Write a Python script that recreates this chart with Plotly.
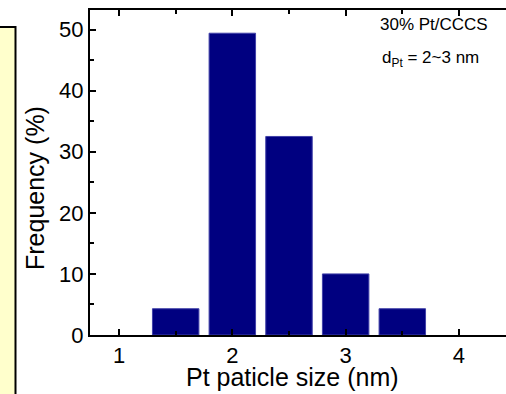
import plotly.graph_objects as go

sizes = [1.5, 2.0, 2.5, 3.0, 3.5]
freq = [4.3, 49.4, 32.5, 10.0, 4.3]
x_ticks = [1, 2, 3, 4]
y_ticks = [0, 10, 20, 30, 40, 50]

FONT = "Liberation Sans, Arial, sans-serif"

fig = go.Figure()
fig.add_trace(go.Bar(
    x=sizes, y=freq, width=0.41,
    marker=dict(color="#000080", line=dict(color="#4040a8", width=1)),
))

L, R, T, B = 90, 0, 10, 59
W, H = 506, 394
pw, ph = W - L - R, H - T - B

def px(x):
    return (x - L) / pw

def py(y):
    return (H - B - y) / ph

fig.update_layout(
    width=W, height=H,
    margin=dict(l=L, r=R, t=T, b=B, pad=0, autoexpand=False),
    paper_bgcolor="white", plot_bgcolor="white",
    showlegend=False,
    font=dict(family=FONT, color="black"),
    xaxis=dict(
        range=[0.744, 4.415], tickvals=x_ticks, ticktext=[str(v) for v in x_ticks],
        ticks="inside", ticklen=6, tickwidth=2, tickcolor="black",
        showline=True, linewidth=2, linecolor="black", mirror="ticks",
        showgrid=False, zeroline=False, automargin=False,
        tickfont=dict(size=22, family=FONT),
        minor=dict(tickvals=[1.5, 2.5, 3.5], ticks="inside", ticklen=4, tickwidth=2, tickcolor="black"),
    ),
    yaxis=dict(
        range=[0, 53.2], tickvals=y_ticks,
        ticks="inside", ticklen=6, tickwidth=2, tickcolor="black",
        showline=True, linewidth=2, linecolor="black",
        showgrid=False, zeroline=False, automargin=False,
        tickfont=dict(size=22, family=FONT),
        minor=dict(tickvals=[5, 15, 25, 35, 45], ticks="inside", ticklen=4, tickwidth=2, tickcolor="black"),
    ),
    shapes=[dict(
        type="rect", xref="paper", yref="paper",
        x0=px(-10), x1=px(15.5), y0=py(410), y1=py(27),
        fillcolor="#FFFFCC", line=dict(color="black", width=2), layer="below",
    )],
    annotations=[
        dict(text="Pt paticle size (nm)", xref="paper", yref="paper",
             x=px(292.5), y=py(377), showarrow=False, font=dict(size=25, family=FONT),
             xanchor="center", yanchor="middle"),
        dict(text="Frequency (%)", xref="paper", yref="paper",
             x=px(35), y=py(188), showarrow=False, textangle=-90,
             font=dict(size=25, family=FONT), xanchor="center", yanchor="middle"),
        dict(text="30% Pt/CCCS", xref="paper", yref="paper",
             x=px(434), y=py(25), showarrow=False, font=dict(size=17, family=FONT),
             xanchor="center", yanchor="middle"),
        dict(text="d<sub>Pt</sub> = 2~3 nm", xref="paper", yref="paper",
             x=px(430), y=py(59), showarrow=False, font=dict(size=17, family=FONT),
             xanchor="center", yanchor="middle"),
    ],
)

fig.write_html(
    "out.html",
    config={"displayModeBar": False},
    post_script="document.body.style.margin='0';document.body.style.overflow='hidden';",
)
